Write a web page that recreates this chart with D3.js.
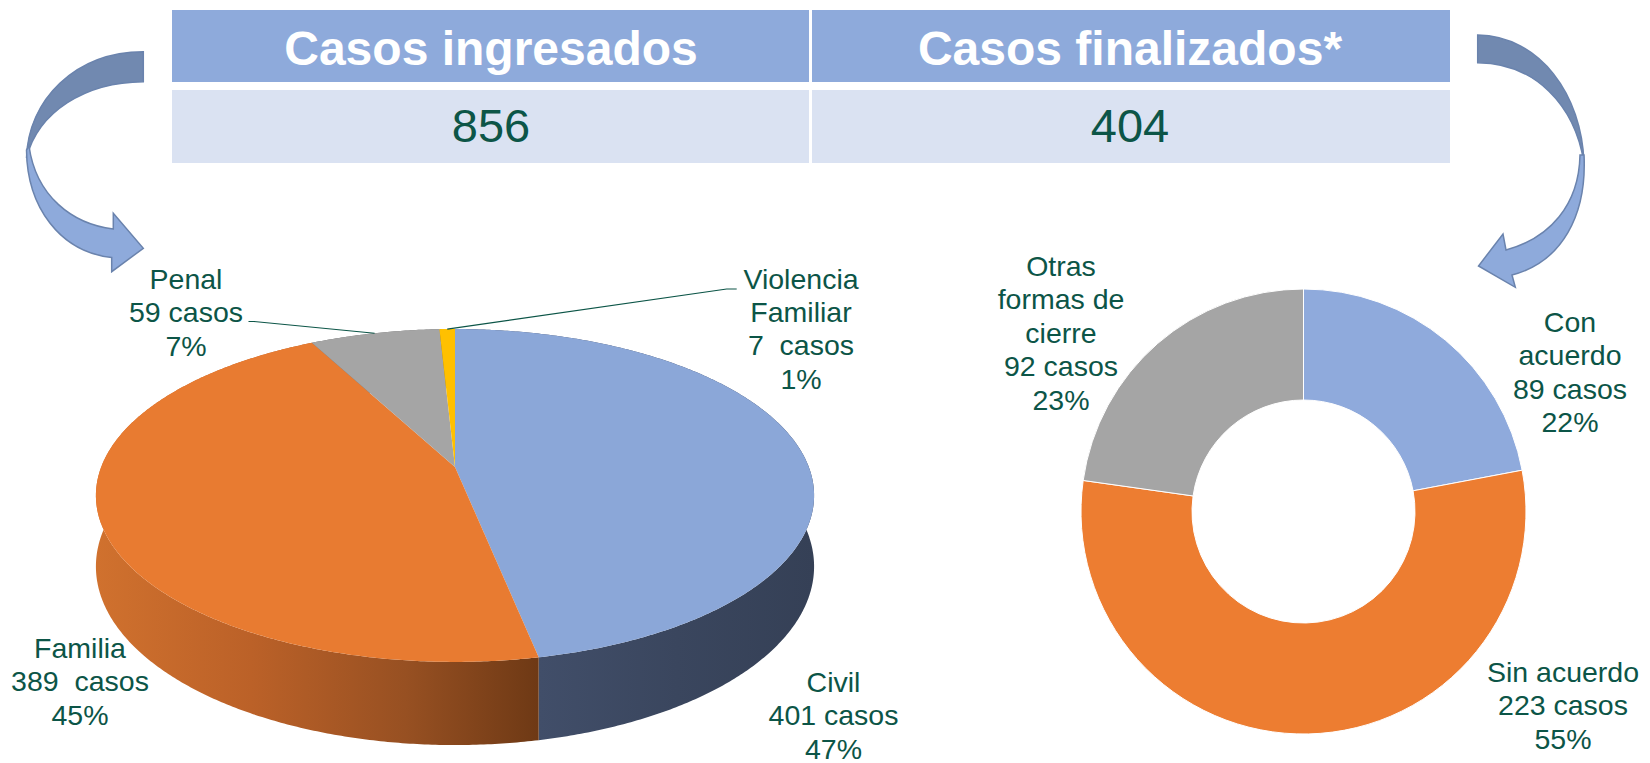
<!DOCTYPE html>
<html>
<head>
<meta charset="utf-8">
<script src="https://cdn.jsdelivr.net/npm/d3@7"></script>
<style>
  html, body { margin: 0; padding: 0; background: #ffffff; }
  svg { display: block; }
  text { font-family: "Liberation Sans", Arial, sans-serif; }
</style>
</head>
<body>
<svg id="chart" width="1650" height="763"></svg>
<script>
// ---------------- DATA ----------------
const tableHeaders = ["Casos ingresados", "Casos finalizados*"];
const tableValues = [856, 404];

const ingresadosCategories = ["Civil", "Familia", "Penal", "Violencia Familiar"];
const ingresadosValues = [401, 389, 59, 7];
const ingresadosNameLines = [["Civil"], ["Familia"], ["Penal"], ["Violencia", "Familiar"]];
const ingresadosCasosGap = [" ", "  ", " ", "  "];

const finalizadosCategories = ["Con acuerdo", "Sin acuerdo", "Otras formas de cierre"];
const finalizadosValues = [89, 223, 92];
const finalizadosNameLines = [["Con", "acuerdo"], ["Sin acuerdo"], ["Otras", "formas de", "cierre"]];

// ---------------- STYLE / LAYOUT ----------------
const textGreen = "#0c5547";
const pieTopColors = ["#8ba7d8", "#e87b31", "#a5a5a5", "#ffc000"];
const donutColors = ["#8faadc", "#ed7d31", "#a5a5a5"];

const svg = d3.select("#chart");
const defs = svg.append("defs");

// ---- Table ----
const table = { x0: 172, x1: 1450, mid: 810, hy0: 10, hy1: 82, vy0: 90, vy1: 163 };
const cols = [[table.x0, table.mid - 1], [table.mid + 2, table.x1]];
cols.forEach(c => {
  svg.append("rect").attr("x", c[0]).attr("y", table.hy0).attr("width", c[1] - c[0]).attr("height", table.hy1 - table.hy0).attr("fill", "#8eaadb");
  svg.append("rect").attr("x", c[0]).attr("y", table.vy0).attr("width", c[1] - c[0]).attr("height", table.vy1 - table.vy0).attr("fill", "#dae2f2");
});
const colCenters = [(table.x0 + table.mid) / 2, (table.mid + table.x1) / 2];
tableHeaders.forEach((h, i) => {
  svg.append("text").attr("x", colCenters[i]).attr("y", 65).attr("text-anchor", "middle")
    .attr("font-size", 48).attr("font-weight", "bold").attr("fill", "#ffffff").text(h);
});
tableValues.forEach((v, i) => {
  svg.append("text").attr("x", colCenters[i]).attr("y", 142).attr("text-anchor", "middle")
    .attr("font-size", 47).attr("fill", textGreen).text(v);
});

// ---- Curved arrows ----
const arrowDark = "#7189b0", arrowLight = "#8eaadb", arrowStroke = "#6a83ad";
// left
svg.append("path").attr("d", "M143.3,51.7 C75,52 28,100 26.5,158 C38,112 85,82 143.3,81.7 Z")
  .attr("fill", arrowDark).attr("stroke", arrowStroke).attr("stroke-width", 1.5);
svg.append("path").attr("d", "M26.5,150 C27,207 60,252 111.7,257.5 L111.7,271.7 L143.3,248.3 L113.3,213.3 L113.3,229 C72,224 36,196 29,146 Z")
  .attr("fill", arrowLight).attr("stroke", arrowStroke).attr("stroke-width", 1.5);
// right
svg.append("path").attr("d", "M1477.7,35 C1540,36 1582,95 1584,163 C1575,105 1535,63 1477.7,62.7 Z")
  .attr("fill", arrowDark).attr("stroke", arrowStroke).attr("stroke-width", 1.5);
svg.append("path").attr("d", "M1584,155 C1587,215 1562,262 1512,275 L1515.3,287.3 L1478.5,266 L1503,234 L1506,250 C1550,238 1579,205 1580,155 Z")
  .attr("fill", arrowLight).attr("stroke", arrowStroke).attr("stroke-width", 1.5);

// ---- 3D pie (perspective projection) ----
const P = { cx: 455, cy: 467, s: 353.8, sinb: 0.4567, cosb: 0.8896, c1: 0.171, s1: 0, h: 0.219 };
function proj(theta, r, w) {
  const u = r * Math.sin(theta), v = -r * Math.cos(theta);
  const z = 1 - P.c1 * v - P.s1 * w;
  return [P.cx + P.s * u / z, P.cy + P.s * (v * P.sinb - w * P.cosb) / z];
}
const pie3 = d3.pie().sort(null).value(d => d).startAngle(0).endAngle(2 * Math.PI);
const arcs3 = pie3(ingresadosValues);
const total3 = d3.sum(ingresadosValues);

function arcPts(a0, a1, w) {
  const n = Math.max(2, Math.ceil(Math.abs(a1 - a0) / (Math.PI / 360)));
  return d3.range(n + 1).map(i => proj(a0 + (a1 - a0) * i / n, 1, w));
}
const line = d3.line();

// side gradients
const sideGrads = [
  { id: "gCivil", x1: 539, x2: 814, stops: [[0, "#414e69"], [0.5, "#3a465e"], [1, "#354056"]] },
  { id: "gFamilia", x1: 97, x2: 539, stops: [[0, "#d0712e"], [0.35, "#bb6128"], [0.7, "#975022"], [1, "#6e3915"]] },
  { id: "gPenal", x1: 0, x2: 1, stops: [[0, "#6e6e6e"], [1, "#6e6e6e"]] },
  { id: "gViol", x1: 0, x2: 1, stops: [[0, "#a87f00"], [1, "#a87f00"]] }
];
sideGrads.forEach(g => {
  const lg = defs.append("linearGradient").attr("id", g.id).attr("gradientUnits", "userSpaceOnUse")
    .attr("x1", g.x1).attr("x2", g.x2).attr("y1", 0).attr("y2", 0);
  g.stops.forEach(s => lg.append("stop").attr("offset", s[0]).attr("stop-color", s[1]));
});

const pieG = svg.append("g");
// walls
arcs3.forEach((a, i) => {
  const top = arcPts(a.startAngle, a.endAngle, 0);
  const bot = arcPts(a.endAngle, a.startAngle, -P.h);
  pieG.append("path").attr("d", line(top.concat(bot)) + "Z").attr("fill", `url(#${sideGrads[i].id})`);
});
// top faces
arcs3.forEach((a, i) => {
  const pts = [[P.cx, P.cy]].concat(arcPts(a.startAngle, a.endAngle, 0));
  pieG.append("path").attr("d", line(pts) + "Z").attr("fill", pieTopColors[i]);
});

// labels
const lh = 33.4;
const pieLabelPos = [
  { x: 833.5, y: 691.7 },
  { x: 80, y: 658 },
  { x: 186, y: 289 },
  { x: 801, y: 288.5 }
];
function addLabel(pos, lines) {
  const t = svg.append("text").attr("text-anchor", "middle").attr("font-size", 28.5)
    .attr("fill", textGreen).style("white-space", "pre");
  lines.forEach((l, k) => t.append("tspan").attr("x", pos.x).attr("y", pos.y + k * lh).text(l));
}
arcs3.forEach((a, i) => {
  const v = ingresadosValues[i];
  const lines = ingresadosNameLines[i].concat([v + ingresadosCasosGap[i] + "casos", Math.round(v / total3 * 100) + "%"]);
  addLabel(pieLabelPos[i], lines);
});
// leader lines (Penal, Violencia Familiar) to slice mid-points on the rim
const leaderStarts = { 2: [[248.5, 321.5], [254, 321.5]], 3: [[736.7, 289], [726.7, 289]] };
Object.keys(leaderStarts).forEach(k => {
  const a = arcs3[+k];
  const mid = proj((a.startAngle + a.endAngle) / 2, 1, 0);
  svg.append("path").attr("d", line(leaderStarts[k].concat([mid])))
    .attr("fill", "none").attr("stroke", textGreen).attr("stroke-width", 1.2);
});

// ---- Donut ----
const D = { cx: 1303.5, cy: 511.5, ro: 222.5, ri: 111.5 };
const pieD = d3.pie().sort(null).value(d => d).startAngle(0).endAngle(2 * Math.PI);
const arcD = d3.arc().innerRadius(D.ri).outerRadius(D.ro);
const arcsD = pieD(finalizadosValues);
const totalD = d3.sum(finalizadosValues);
const donutG = svg.append("g").attr("transform", `translate(${D.cx},${D.cy})`);
donutG.selectAll("path").data(arcsD).join("path")
  .attr("d", arcD).attr("fill", (d, i) => donutColors[i]).attr("stroke", "#ffffff").attr("stroke-width", 1);

const donutLabelPos = [
  { x: 1570, y: 332 },
  { x: 1563, y: 682 },
  { x: 1061, y: 276 }
];
arcsD.forEach((a, i) => {
  const v = finalizadosValues[i];
  const lines = finalizadosNameLines[i].concat([v + " casos", Math.round(v / totalD * 100) + "%"]);
  addLabel(donutLabelPos[i], lines);
});
</script>
</body>
</html>
